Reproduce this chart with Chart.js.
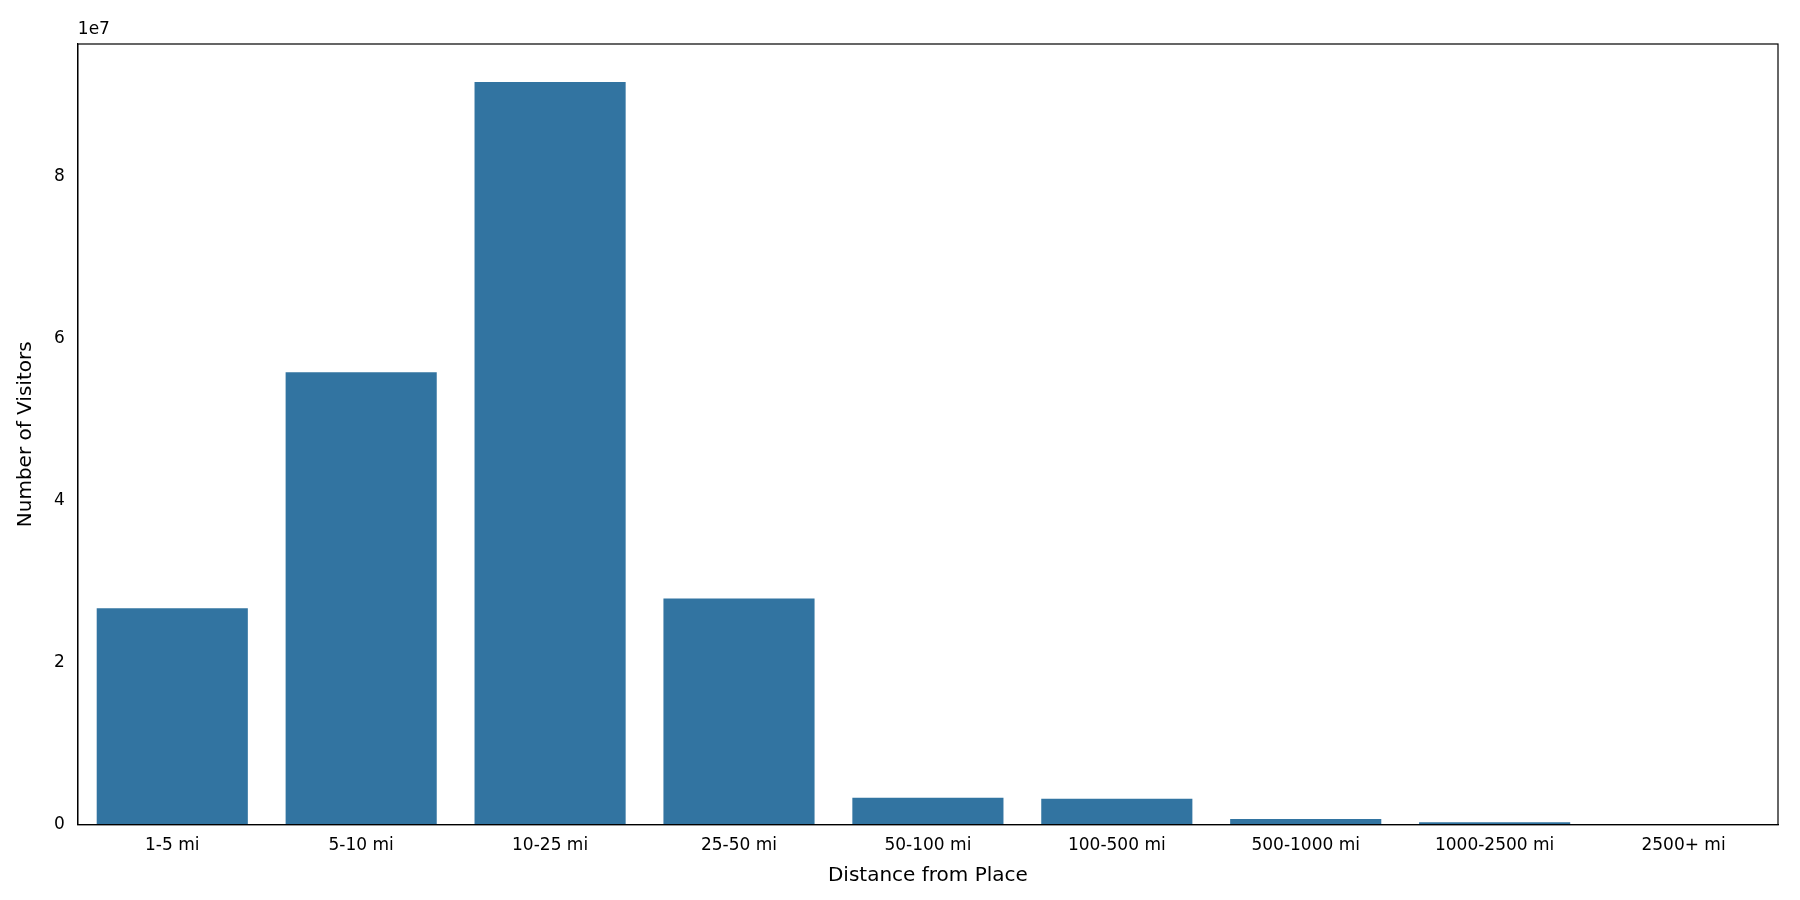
<!DOCTYPE html>
<html>
<head>
<meta charset="utf-8">
<script src="https://cdn.jsdelivr.net/npm/chart.js@4"></script>
<style>
  html, body { margin: 0; padding: 0; background: #fff; }
  #wrap { width: 1800px; height: 900px; }
</style>
</head>
<body>
<div id="wrap"><canvas id="BarChart"></canvas></div>
<script>
// distance bins and visitor counts
const distanceLabels = ['1-5 mi', '5-10 mi', '10-25 mi', '25-50 mi', '50-100 mi',
    '100-500 mi', '500-1000 mi', '1000-2500 mi', '2500+ mi'];
const visitorCounts = [26700000, 55800000, 91600000, 27900000, 3300000,
    3200000, 700000, 300000, 50000];
const yTicks = [0, 2e7, 4e7, 6e7, 8e7];

// "1e7" offset text above the y axis, like matplotlib
const offsetLabel = {
    id: 'offsetLabel',
    afterDraw(chart) {
        const ctx = chart.ctx;
        const a = chart.chartArea;
        ctx.save();
        ctx.font = '17px "DejaVu Sans"';
        ctx.fillStyle = '#000';
        ctx.textAlign = 'left';
        ctx.textBaseline = 'bottom';
        ctx.fillText('1e7', a.left, a.top - 6);
        ctx.strokeStyle = '#000';
        ctx.lineWidth = 1.2;
        ctx.strokeRect(a.left, a.top, a.right - a.left, a.bottom - a.top);
        ctx.restore();
    }
};

new Chart(document.getElementById('BarChart'), {
    type: 'bar',
    data: {
        labels: distanceLabels,
        datasets: [{
            data: visitorCounts,
            backgroundColor: '#3274a1',
            categoryPercentage: 1.0,
            barPercentage: 0.8
        }]
    },
    options: {
        responsive: true,
        maintainAspectRatio: false,
        animation: false,
        layout: { padding: { left: 10, right: 22, top: 44, bottom: 8 } },
        plugins: { legend: { display: false }, tooltip: { enabled: false } },
        scales: {
            x: {
                grid: { display: false, drawTicks: true, tickLength: 7, color: '#000' },
                border: { color: '#000', width: 1.2 },
                ticks: { color: '#000', font: { family: 'DejaVu Sans', size: 17 }, padding: 4 },
                title: { display: true, text: 'Distance from Place', color: '#000',
                    font: { family: 'DejaVu Sans', size: 20 }, padding: { top: 4 } }
            },
            y: {
                min: 0,
                max: 9.63e7,
                afterBuildTicks: axis => { axis.ticks = yTicks.map(v => ({ value: v })); },
                grid: { display: false, drawTicks: true, tickLength: 7 },
                border: { color: '#000', width: 1.2 },
                ticks: {
                    color: '#000', font: { family: 'DejaVu Sans', size: 17 }, padding: 6,
                    callback: v => (v / 1e7).toString()
                },
                title: { display: true, text: 'Number of Visitors', color: '#000',
                    font: { family: 'DejaVu Sans', size: 20 }, padding: { bottom: 10 } }
            }
        }
    },
    plugins: [offsetLabel]
});
</script>
</body>
</html>
